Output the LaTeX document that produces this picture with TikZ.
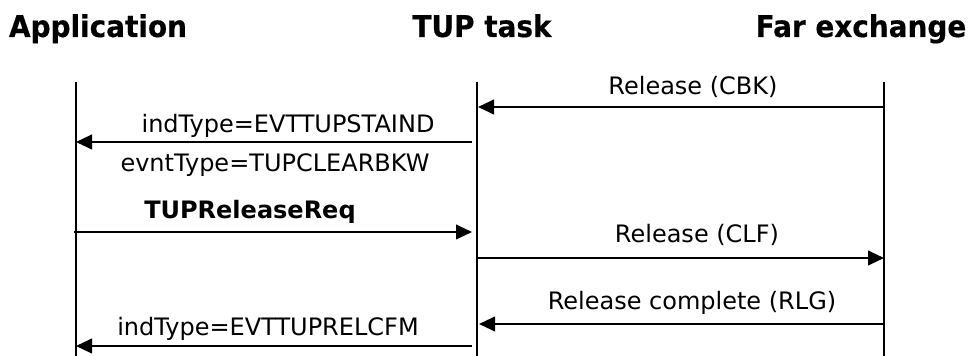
\documentclass[tikz,border=0pt]{standalone}
\usepackage{fontspec}
\setmainfont{DejaVu Sans}
\newfontfamily\headfont[FakeStretch=0.93,FakeBold=0.4]{DejaVu Sans Bold}
\usetikzlibrary{arrows.meta}
\begin{document}
\begin{tikzpicture}[x=0.75pt,y=-0.75pt,
  lifeline/.style={line width=1.3pt},
  msg/.style={line width=1.5pt,-{Triangle[length=12pt,width=11pt]}},
  head/.style={font=\fontsize{22.5pt}{26pt}\headfont,anchor=base},
  lbl/.style={font=\fontsize{18pt}{21pt}\selectfont,anchor=base,inner sep=0pt}]
\useasboundingbox (0,0) rectangle (976,356);
% headings
\node[head] (happ) at (98,37) {Application};
\node[head] (htup) at (482,37) {TUP task};
\node[head] (hfar) at (861,37) {Far exchange};
% lifelines
\coordinate (at) at (76,82);  \coordinate (ab) at (76,356);
\coordinate (tt) at (477,82); \coordinate (tb) at (477,356);
\coordinate (ft) at (884,82); \coordinate (fb) at (884,356);
\draw[lifeline] (at) -- (ab);
\draw[lifeline] (tt) -- (tb);
\draw[lifeline] (ft) -- (fb);
% message end points
\coordinate (m1s) at (884,107); \coordinate (m1e) at (478,107);
\coordinate (m2s) at (472,142); \coordinate (m2e) at (76,142);
\coordinate (m3s) at (74,232);  \coordinate (m3e) at (472,232);
\coordinate (m4s) at (478,258); \coordinate (m4e) at (884,258);
\coordinate (m5s) at (884,324); \coordinate (m5e) at (479,324);
\coordinate (m6s) at (472,346); \coordinate (m6e) at (76,346);
\draw[msg] (m1s) -- (m1e);
\draw[msg] (m2s) -- (m2e);
\draw[msg] (m3s) -- (m3e);
\draw[msg] (m4s) -- (m4e);
\draw[msg] (m5s) -- (m5e);
\draw[msg] (m6s) -- (m6e);
% labels
\node[lbl] (l1) at (693,95) {Release (CBK)};
\node[lbl] (l2) at (288,133) {indType=EVTTUPSTAIND};
\node[lbl] (l2b) at (275,172) {evntType=TUPCLEARBKW};
\node[lbl,font=\fontsize{18pt}{21pt}\selectfont\bfseries] (l3) at (250,219) {TUPReleaseReq};
\node[lbl] (l4) at (697,243) {Release (CLF)};
\node[lbl] (l5) at (692,310) {Release complete (RLG)};
\node[lbl] (l6) at (268,335) {indType=EVTTUPRELCFM};
\end{tikzpicture}
\end{document}
